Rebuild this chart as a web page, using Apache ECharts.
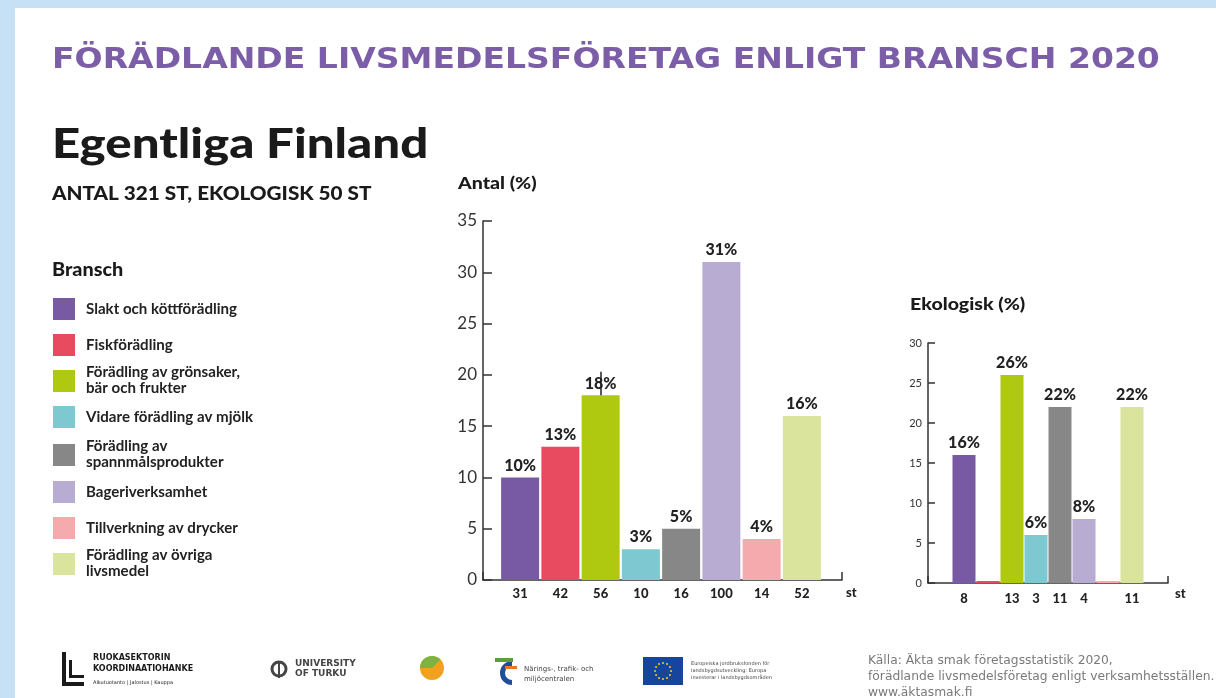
<!DOCTYPE html>
<html>
<head>
<meta charset="utf-8">
<script src="https://cdn.jsdelivr.net/npm/echarts@6/dist/echarts.min.js"></script>
<style>
  html, body { margin: 0; padding: 0; background: #fff; }
  #chart { width: 1216px; height: 698px; }
</style>
</head>
<body>
<div id="chart"></div>
<script>
// branscher och färger
const categories = [
  "Slakt och köttförädling",
  "Fiskförädling",
  "Förädling av grönsaker,\nbär och frukter",
  "Vidare förädling av mjölk",
  "Förädling av\nspannmålsprodukter",
  "Bageriverksamhet",
  "Tillverkning av drycker",
  "Förädling av övriga\nlivsmedel"
]
const colors = ["#775aa3", "#e84a5f", "#aec90f", "#7ec8d2", "#878787", "#b8acd3", "#f5abae", "#dbe49c"]

// Antal (%)
const antalPct = [10, 13, 18, 3, 5, 31, 4, 16]
const antalCount = ["31", "42", "56", "10", "16", "100", "14", "52"]

// Ekologisk (%)
const ekoPct = [16, 0, 26, 6, 22, 8, 0, 22]
const ekoCount = ["8", "", "13", "3", "11", "4", "", "11"]

const antalMax = 35
const ekoMax = 30

const chart = echarts.init(document.getElementById("chart"))

const font = "Lato, 'Open Sans', sans-serif"
const axisColor = "#333"

// legend (bransch) som grafik
const legendTops = [298, 334, 370, 406, 444, 481, 517, 553]
const legendItems = []
categories.forEach((name, i) => {
  legendItems.push({
    type: "rect",
    shape: { x: 53, y: legendTops[i], width: 22, height: 22 },
    style: { fill: colors[i] }
  })
  const twoLines = name.indexOf("\n") >= 0
  legendItems.push({
    type: "text",
    x: 86,
    y: twoLines ? legendTops[i] - 6 : legendTops[i] + 11,
    scaleX: 1.04,
    style: {
      text: name,
      font: "bold 14.5px " + font,
      fill: "#222",
      lineHeight: 16,
      verticalAlign: twoLines ? "top" : "middle"
    }
  })
})

// EU-flaggans stjärnor
const euStars = []
for (let k = 0; k < 12; k++) {
  const a = (k / 12) * Math.PI * 2
  euStars.push({
    type: "circle",
    shape: { cx: 663 + Math.cos(a) * 8, cy: 671 + Math.sin(a) * 8, r: 1 },
    style: { fill: "#f3d21b" }
  })
}

const barLabel = {
  show: true,
  position: "top",
  distance: 4,
  color: "#222",
  fontFamily: font,
  fontWeight: 900,
  fontSize: 16,
  formatter: p => (p.value ? p.value + "%" : "")
}

const option = {
  backgroundColor: "#fff",
  animation: false,
  grid: [
    { left: 483, top: 221, width: 359, height: 359 },
    { left: 500, top: 221, width: 322, height: 359 },
    { left: 928, top: 343, width: 240, height: 240 },
    { left: 952, top: 343, width: 192, height: 240 }
  ],
  xAxis: [
    {
      gridIndex: 0, type: "value", min: 0, max: 1, interval: 1,
      axisLine: { show: true, lineStyle: { color: axisColor, width: 1.5 } },
      axisTick: { show: true, inside: true, length: 8, lineStyle: { color: axisColor, width: 1.5 } },
      axisLabel: { show: false },
      splitLine: { show: false }
    },
    {
      gridIndex: 1, type: "category", data: antalCount,
      axisLine: { show: false }, axisTick: { show: false },
      axisLabel: { margin: 7, color: "#222", fontFamily: font, fontWeight: 900, fontSize: 13 }
    },
    {
      gridIndex: 2, type: "value", min: 0, max: 1, interval: 1,
      axisLine: { show: true, lineStyle: { color: axisColor, width: 1.5 } },
      axisTick: { show: true, inside: true, length: 7, lineStyle: { color: axisColor, width: 1.5 } },
      axisLabel: { show: false },
      splitLine: { show: false }
    },
    {
      gridIndex: 3, type: "category", data: ekoCount,
      axisLine: { show: false }, axisTick: { show: false },
      axisLabel: { margin: 9, color: "#222", fontFamily: font, fontWeight: 900, fontSize: 13 }
    }
  ],
  yAxis: [
    {
      gridIndex: 0, type: "value", min: 0, max: antalMax, interval: 5,
      axisLine: { show: true, lineStyle: { color: axisColor, width: 1.5 } },
      axisTick: { show: true, inside: true, length: 9, lineStyle: { color: axisColor, width: 1.5 } },
      axisLabel: { margin: 6, color: "#333", fontFamily: font, fontSize: 17 },
      splitLine: { show: false }
    },
    { gridIndex: 1, type: "value", min: 0, max: antalMax, show: false, splitLine: { show: false } },
    {
      gridIndex: 2, type: "value", min: 0, max: ekoMax, interval: 5,
      axisLine: { show: true, lineStyle: { color: axisColor, width: 1.5 } },
      axisTick: { show: true, inside: true, length: 7, lineStyle: { color: axisColor, width: 1.5 } },
      axisLabel: { margin: 6, color: "#333", fontFamily: font, fontSize: 11 },
      splitLine: { show: false }
    },
    { gridIndex: 3, type: "value", min: 0, max: ekoMax, show: false, splitLine: { show: false } }
  ],
  series: [
    {
      name: "Antal",
      type: "bar",
      xAxisIndex: 1,
      yAxisIndex: 1,
      barWidth: 38,
      data: antalPct.map((v, i) => ({ value: v, itemStyle: { color: colors[i] } })),
      label: barLabel,
      markLine: {
        silent: true,
        symbol: "none",
        label: { show: false },
        lineStyle: { color: "#222", width: 1.5, type: "solid" },
        data: [[{ coord: [2, 18] }, { coord: [2, 20.3] }]]
      }
    },
    {
      name: "Ekologisk",
      type: "bar",
      xAxisIndex: 3,
      yAxisIndex: 3,
      barWidth: 23,
      barMinHeight: 2,
      data: ekoPct.map((v, i) => ({ value: v, itemStyle: { color: colors[i] } })),
      label: barLabel
    }
  ],
  graphic: [
    { type: "rect", z: -10, shape: { x: 0, y: 0, width: 15, height: 698 }, style: { fill: "#c6e0f5" } },
    { type: "rect", z: -10, shape: { x: 0, y: 0, width: 1216, height: 8 }, style: { fill: "#c6e0f5" } },
    {
      type: "text", x: 52, y: 61, scaleX: 1.18,
      style: {
        text: "FÖRÄDLANDE LIVSMEDELSFÖRETAG ENLIGT BRANSCH 2020",
        font: "bold 28px 'DejaVu Sans', sans-serif",
        fill: "#7b5ea7", verticalAlign: "middle"
      }
    },
    {
      type: "text", x: 52, y: 145, scaleX: 1.2,
      style: { text: "Egentliga Finland", font: "900 41px " + font, fill: "#1a1a1a", verticalAlign: "middle" }
    },
    {
      type: "text", x: 52, y: 194, scaleX: 1.15,
      style: { text: "ANTAL 321 ST, EKOLOGISK 50 ST", font: "900 18px " + font, fill: "#1a1a1a", verticalAlign: "middle" }
    },
    {
      type: "text", x: 52, y: 270, scaleX: 1.1,
      style: { text: "Bransch", font: "900 18px " + font, fill: "#1a1a1a", verticalAlign: "middle" }
    },
    {
      type: "text", x: 458, y: 184, scaleX: 1.15,
      style: { text: "Antal (%)", font: "900 17px " + font, fill: "#1a1a1a", verticalAlign: "middle" }
    },
    {
      type: "text", x: 910, y: 305, scaleX: 1.15,
      style: { text: "Ekologisk (%)", font: "900 17px " + font, fill: "#1a1a1a", verticalAlign: "middle" }
    },
    {
      type: "text", x: 846, y: 593,
      style: { text: "st", font: "900 13px " + font, fill: "#222", verticalAlign: "middle" }
    },
    {
      type: "text", x: 1175, y: 594,
      style: { text: "st", font: "900 13px " + font, fill: "#222", verticalAlign: "middle" }
    },
    ...legendItems,
    // logotyper i sidfoten (förenklade)
    { type: "rect", shape: { x: 62, y: 652, width: 4, height: 34 }, style: { fill: "#1a1a1a" } },
    { type: "rect", shape: { x: 62, y: 682, width: 22, height: 4 }, style: { fill: "#1a1a1a" } },
    { type: "rect", shape: { x: 69, y: 660, width: 3, height: 18 }, style: { fill: "#1a1a1a" } },
    { type: "rect", shape: { x: 69, y: 675, width: 15, height: 3 }, style: { fill: "#1a1a1a" } },
    {
      type: "text", x: 93, y: 663,
      style: { text: "RUOKASEKTORIN\nKOORDINAATIOHANKE", font: "bold 8px 'DejaVu Sans', sans-serif", fill: "#1a1a1a", lineHeight: 11, verticalAlign: "middle" }
    },
    {
      type: "text", x: 93, y: 683,
      style: { text: "Alkutuotanto | Jalostus | Kauppa", font: "5px 'DejaVu Sans', sans-serif", fill: "#1a1a1a", verticalAlign: "middle" }
    },
    { type: "circle", shape: { cx: 279, cy: 669, r: 7 }, style: { fill: "none", stroke: "#444", lineWidth: 3 } },
    { type: "rect", shape: { x: 278, y: 661, width: 2, height: 17 }, style: { fill: "#444" } },
    {
      type: "text", x: 295, y: 669,
      style: { text: "UNIVERSITY\nOF TURKU", font: "bold 9px 'DejaVu Sans', sans-serif", fill: "#444", lineHeight: 10, verticalAlign: "middle" }
    },
    { type: "circle", shape: { cx: 432, cy: 668, r: 12 }, style: { fill: "#f2a11f" } },
    { type: "sector", shape: { cx: 432, cy: 668, r: 12, startAngle: Math.PI, endAngle: Math.PI * 1.75 }, style: { fill: "#7cb342" } },
    { type: "sector", shape: { cx: 512, cy: 673, r: 12, r0: 7, startAngle: Math.PI * 0.5, endAngle: Math.PI * 1.5 }, style: { fill: "#1f4e9b" } },
    { type: "rect", shape: { x: 495, y: 658, width: 18, height: 4 }, style: { fill: "#5c9e3c" } },
    { type: "rect", shape: { x: 505, y: 666, width: 12, height: 3 }, style: { fill: "#ee7623" } },
    {
      type: "text", x: 524, y: 674,
      style: { text: "Närings-, trafik- och\nmiljöcentralen", font: "7px 'DejaVu Sans', sans-serif", fill: "#444", lineHeight: 10, verticalAlign: "middle" }
    },
    { type: "rect", shape: { x: 643, y: 657, width: 40, height: 28 }, style: { fill: "#16459c" } },
    ...euStars,
    {
      type: "text", x: 691, y: 671,
      style: {
        text: "Europeiska jordbruksfonden för\nlandsbygdsutveckling: Europa\ninvesterar i landsbygdsområden",
        font: "5px 'DejaVu Sans', sans-serif", fill: "#444", lineHeight: 7, verticalAlign: "middle"
      }
    },
    {
      type: "text", x: 868, y: 677, scaleX: 1.05,
      style: {
        text: "Källa: Äkta smak företagsstatistik 2020,\nförädlande livsmedelsföretag enligt verksamhetsställen.\nwww.äktasmak.fi",
        font: "13px 'DejaVu Sans Condensed', sans-serif", fill: "#7a7a7a", lineHeight: 16, verticalAlign: "middle"
      }
    }
  ]
}

chart.setOption(option)
</script>
</body>
</html>
